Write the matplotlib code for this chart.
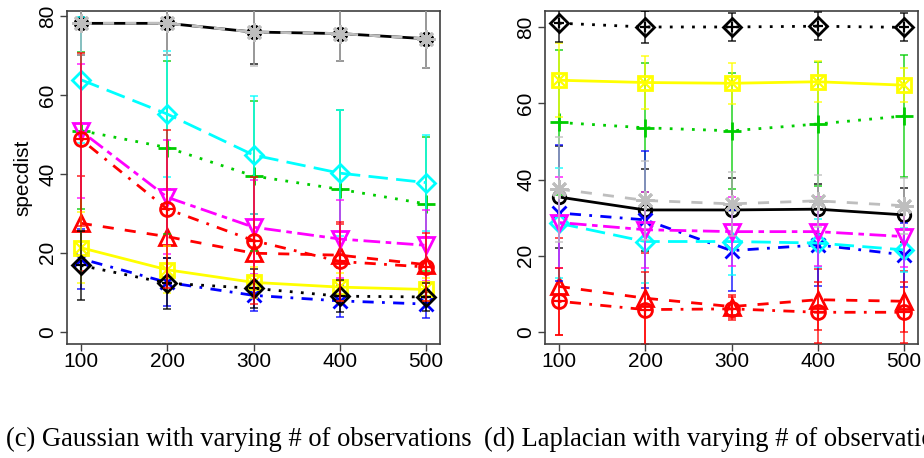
import matplotlib
matplotlib.use("Agg")
from matplotlib import pyplot as plt

# x values (number of observations)
n_obs = [100, 200, 300, 400, 500]
tick_vals = [0, 20, 40, 60, 80]

# (c) Gaussian: means and error half-widths per series
gauss_s1 = [78.2, 78.2, 76.0, 75.6, 74.3]
gauss_s2 = [27.5, 24.1, 19.9, 19.4, 17.0]
gauss_s3 = [51.0, 46.7, 39.5, 36.1, 32.4]
gauss_s4 = [18.5, 12.5, 9.2, 7.8, 7.0]
gauss_s5 = [63.9, 55.2, 44.8, 40.2, 37.8]
gauss_s6 = [50.9, 34.1, 26.5, 23.5, 21.9]
gauss_s7 = [21.3, 15.7, 12.5, 11.3, 10.7]
gauss_s8 = [78.2, 78.2, 76.0, 75.6, 74.3]
gauss_s9 = [16.8, 12.3, 11.0, 9.0, 8.8]
gauss_s10 = [48.8, 31.1, 23.1, 17.8, 16.4]

gauss_e1 = [8.0, 8.0, 8.0, 7.0, 7.5]
gauss_e2 = [12.0, 12.0, 10.0, 8.0, 7.0]
gauss_e3 = [20.0, 22.0, 19.0, 20.0, 17.0]
gauss_e4 = [7.6, 6.1, 4.0, 4.0, 3.5]
gauss_e5 = [16.0, 16.0, 15.0, 16.0, 12.2]
gauss_e6 = [17.0, 14.5, 12.0, 10.0, 9.0]
gauss_e7 = [9.0, 6.0, 4.0, 3.5, 3.0]
gauss_e8 = [8.0, 8.0, 8.5, 7.0, 7.5]
gauss_e9 = [8.7, 6.5, 5.0, 4.0, 3.5]
gauss_e10 = [22.0, 20.0, 16.0, 10.0, 8.6]

# (d) Laplacian
lap_s1 = [35.4, 32.0, 32.0, 32.2, 30.7]
lap_s2 = [11.9, 8.8, 6.6, 8.4, 8.0]
lap_s3 = [55.0, 53.6, 52.8, 54.6, 56.7]
lap_s4 = [31.2, 29.4, 21.3, 22.8, 20.2]
lap_s5 = [28.5, 23.7, 23.7, 23.3, 21.5]
lap_s6 = [28.7, 26.8, 26.3, 26.3, 25.0]
lap_s7 = [66.1, 65.5, 65.3, 65.7, 64.8]
lap_s8 = [37.5, 34.5, 33.6, 34.4, 33.1]
lap_s9 = [81.1, 80.1, 80.1, 80.3, 80.0]
lap_s10 = [8.0, 5.8, 6.0, 5.1, 5.1]

lap_e1 = [13.4, 10.7, 8.3, 6.6, 7.2]
lap_e2 = [12.7, 12.0, 3.0, 8.0, 8.0]
lap_e3 = [19.0, 17.0, 15.3, 16.3, 16.0]
lap_e4 = [18.0, 18.0, 10.7, 10.7, 8.5]
lap_e5 = [14.5, 10.8, 8.7, 6.3, 5.7]
lap_e6 = [12.0, 10.0, 9.0, 9.0, 8.0]
lap_e7 = [9.7, 7.0, 5.4, 5.4, 4.5]
lap_e8 = [13.8, 10.4, 8.5, 6.8, 7.4]
lap_e9 = [5.0, 4.3, 3.7, 3.7, 3.7]
lap_e10 = [8.8, 10.0, 3.0, 8.0, 8.0]

captions = ["(c) Gaussian with varying # of observations",
            "(d) Laplacian with varying # of observations"]

# R-like palette / line types / pch
COLORS = ["black", "#FF0000", "#00CD00", "#0000FF", "#00FFFF",
          "#FF00FF", "#FFFF00", "#BEBEBE", "black", "#FF0000"]
LTYS = [(0, ()), (0, (4, 4)), (0, (1, 3)), (0, (1, 3, 4, 3)), (0, (7, 3)),
        (0, (2, 2, 6, 2)), (0, ()), (0, (4, 4)), (0, (1, 3)), (0, (1, 3, 4, 3))]
# main marker, overlay marker
MARKS = [("o", None), ("^", None), ("+", None), ("x", None), ("D", None),
         ("v", None), ("s", "x"), ((8, 2, 0), None), ("D", "+"), ("o", "+")]
MSIZE = [9, 11, 13, 10, 9.5, 11, 10, 13, 9.5, 10]

plt.rcParams["font.family"] = ["Liberation Sans", "DejaVu Sans"]


def draw_panel(ax, means, errs, ylim, ylabel=None):
    for i, (m, e) in enumerate(zip(means, errs)):
        c = COLORS[i]
        z = 2 + i * 0.1
        ax.errorbar(n_obs, m, yerr=e, fmt="none", ecolor=c, elinewidth=1.2,
                    capsize=3, capthick=1.2, alpha=0.8, zorder=z)
        mk, over = MARKS[i]
        ax.plot(n_obs, m, color=c, linestyle=LTYS[i], lw=2.0, marker=mk,
                ms=MSIZE[i], mfc="none", mec=c, mew=2.0, zorder=z + 0.05)
        if over is not None:
            ax.plot(n_obs, m, linestyle="none", marker=over, ms=MSIZE[i] * 0.8,
                    mec=c, mew=1.6, zorder=z + 0.06)
    ax.set_xlim(84, 516)
    ax.set_ylim(*ylim)
    ax.set_xticks(n_obs)
    ax.set_yticks(tick_vals)
    ax.tick_params(direction="out", length=5, width=1, labelsize=15,
                   color="#404040")
    ax.tick_params(axis="x", pad=1)
    ax.tick_params(axis="y", pad=2)
    for lab in ax.get_yticklabels():
        lab.set_rotation(90)
        lab.set_va("center")
    for sp in ax.spines.values():
        sp.set_color("#404040")
        sp.set_linewidth(1.2)
    if ylabel:
        ax.set_ylabel(ylabel, fontsize=15, labelpad=4)


fig = plt.figure(figsize=(9.24, 4.58), dpi=100)
ax1 = fig.add_axes([67 / 924, 114 / 458, 373 / 924, 333 / 458])
ax2 = fig.add_axes([545 / 924, 114 / 458, 373 / 924, 333 / 458])

draw_panel(ax1,
           [gauss_s1, gauss_s2, gauss_s3, gauss_s4, gauss_s5,
            gauss_s6, gauss_s7, gauss_s8, gauss_s9, gauss_s10],
           [gauss_e1, gauss_e2, gauss_e3, gauss_e4, gauss_e5,
            gauss_e6, gauss_e7, gauss_e8, gauss_e9, gauss_e10],
           (-3.13, 81.33), ylabel="specdist")
draw_panel(ax2,
           [lap_s1, lap_s2, lap_s3, lap_s4, lap_s5,
            lap_s6, lap_s7, lap_s8, lap_s9, lap_s10],
           [lap_e1, lap_e2, lap_e3, lap_e4, lap_e5,
            lap_e6, lap_e7, lap_e8, lap_e9, lap_e10],
           (-3.24, 84.3))

# captions: the second one runs past the right edge, as in the source figure
fig.text(6 / 924, 12 / 458, captions[0], fontsize=19.2,
         family=["Liberation Serif", "DejaVu Serif"], va="baseline")
fig.text(484 / 924, 12 / 458, captions[1], fontsize=19.2,
         family=["Liberation Serif", "DejaVu Serif"], va="baseline")

fig.savefig("out.png", dpi=100)
